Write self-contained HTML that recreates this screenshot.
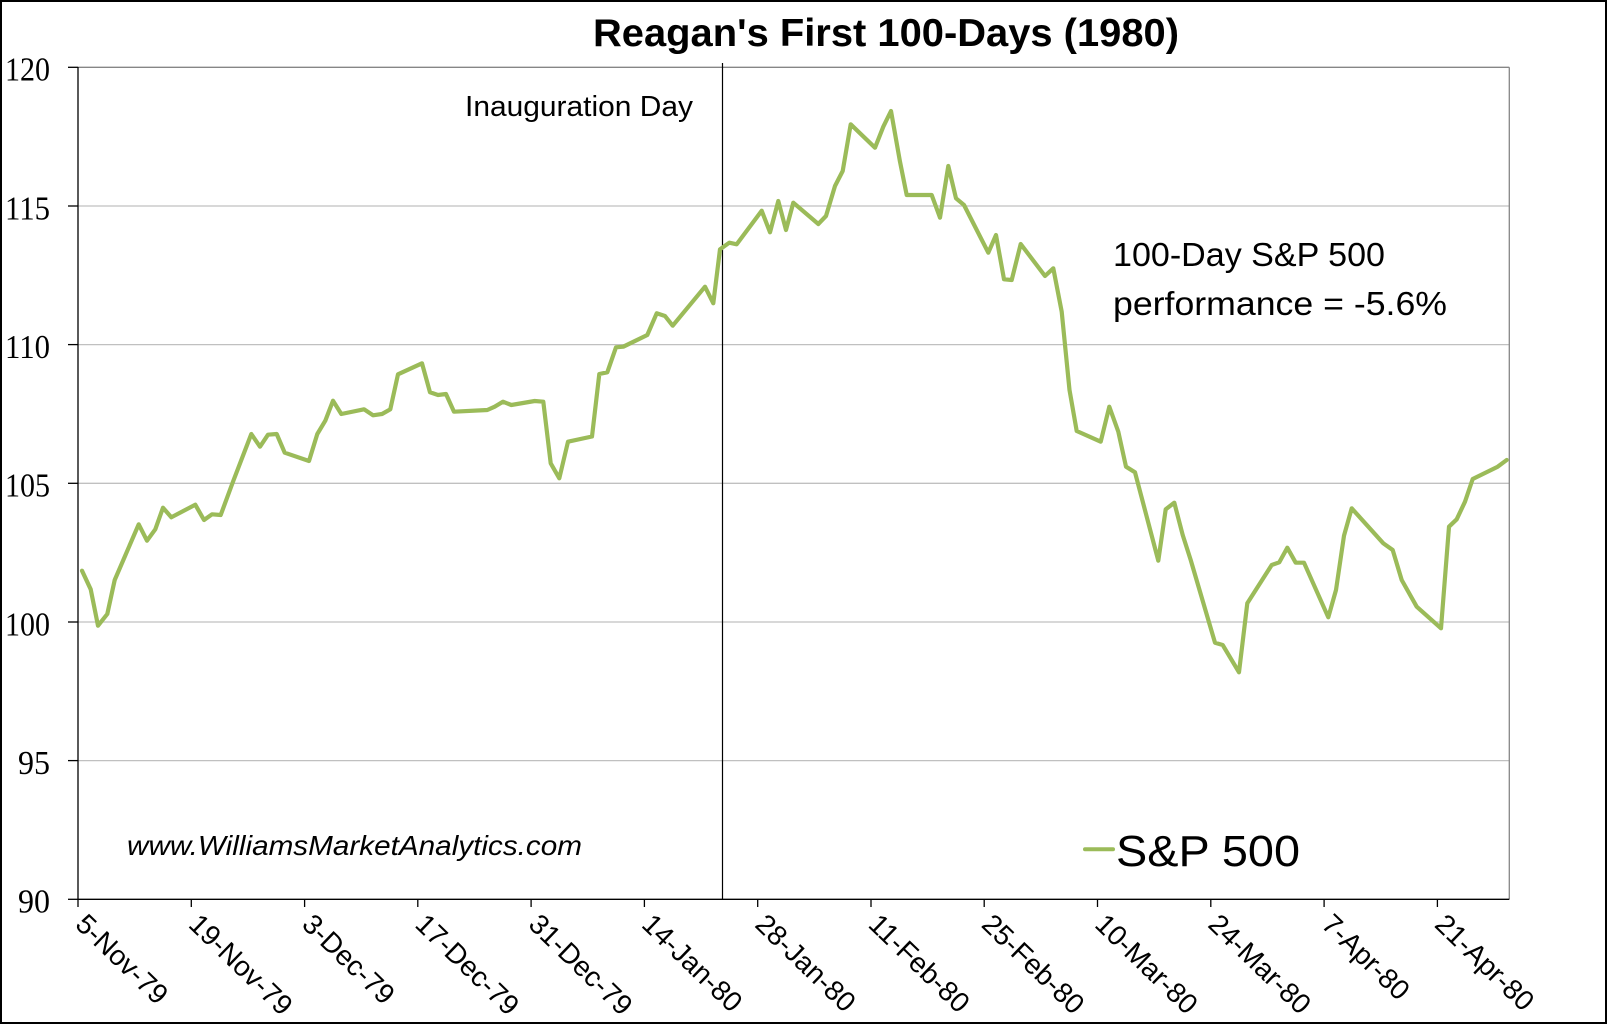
<!DOCTYPE html>
<html>
<head>
<meta charset="utf-8">
<style>
html,body{margin:0;padding:0;background:#fff;}
svg{display:block;}
text{font-family:"Liberation Sans",Arial,sans-serif;}
</style>
</head>
<body>
<svg width="1609" height="1025" viewBox="0 0 1609 1025" xmlns="http://www.w3.org/2000/svg">
<rect x="0" y="0" width="1609" height="1025" fill="#fff"/>
<rect x="1" y="1" width="1605" height="1022" fill="none" stroke="#000" stroke-width="2"/>

<!-- title -->
<text x="593" y="46" font-size="38.5" font-weight="bold" textLength="586" lengthAdjust="spacingAndGlyphs">Reagan's First 100-Days (1980)</text>

<!-- gridlines -->
<g stroke="#c0c0c0" stroke-width="1.3">
<line x1="78" y1="206" x2="1509" y2="206"/>
<line x1="78" y1="344.6" x2="1509" y2="344.6"/>
<line x1="78" y1="483.3" x2="1509" y2="483.3"/>
<line x1="78" y1="622" x2="1509" y2="622"/>
<line x1="78" y1="760.6" x2="1509" y2="760.6"/>
</g>
<!-- plot border top/right -->
<line x1="78" y1="67.3" x2="1509.3" y2="67.3" stroke="#868686" stroke-width="1.3"/>
<line x1="1509.3" y1="67.3" x2="1509.3" y2="899.3" stroke="#868686" stroke-width="1.3"/>

<!-- axes -->
<line x1="78" y1="67" x2="78" y2="899.3" stroke="#000" stroke-width="1.3"/>
<line x1="78" y1="899.3" x2="1509.3" y2="899.3" stroke="#000" stroke-width="1.3"/>
<g stroke="#000" stroke-width="1.3">
<line x1="68" y1="67.3" x2="78" y2="67.3"/>
<line x1="68" y1="206" x2="78" y2="206"/>
<line x1="68" y1="344.6" x2="78" y2="344.6"/>
<line x1="68" y1="483.3" x2="78" y2="483.3"/>
<line x1="68" y1="622" x2="78" y2="622"/>
<line x1="68" y1="760.6" x2="78" y2="760.6"/>
<line x1="68" y1="899.3" x2="78" y2="899.3"/>
<line x1="78" y1="899" x2="78" y2="907"/>
<line x1="191.3" y1="899" x2="191.3" y2="907"/>
<line x1="304.6" y1="899" x2="304.6" y2="907"/>
<line x1="417.8" y1="899" x2="417.8" y2="907"/>
<line x1="531.1" y1="899" x2="531.1" y2="907"/>
<line x1="644.4" y1="899" x2="644.4" y2="907"/>
<line x1="757.7" y1="899" x2="757.7" y2="907"/>
<line x1="871" y1="899" x2="871" y2="907"/>
<line x1="984.2" y1="899" x2="984.2" y2="907"/>
<line x1="1097.5" y1="899" x2="1097.5" y2="907"/>
<line x1="1210.8" y1="899" x2="1210.8" y2="907"/>
<line x1="1324.1" y1="899" x2="1324.1" y2="907"/>
<line x1="1437.4" y1="899" x2="1437.4" y2="907"/>
</g>

<!-- y labels -->
<g font-size="34" text-anchor="end">
<text x="50" y="80.5" textLength="45" lengthAdjust="spacingAndGlyphs" style="font-family:'Liberation Serif',serif">120</text>
<text x="50" y="219.3" textLength="45" lengthAdjust="spacingAndGlyphs" style="font-family:'Liberation Serif',serif">115</text>
<text x="50" y="357.9" textLength="45" lengthAdjust="spacingAndGlyphs" style="font-family:'Liberation Serif',serif">110</text>
<text x="50" y="496.6" textLength="45" lengthAdjust="spacingAndGlyphs" style="font-family:'Liberation Serif',serif">105</text>
<text x="50" y="635.3" textLength="45" lengthAdjust="spacingAndGlyphs" style="font-family:'Liberation Serif',serif">100</text>
<text x="50" y="773.9" textLength="32" lengthAdjust="spacingAndGlyphs" style="font-family:'Liberation Serif',serif">95</text>
<text x="50" y="912.6" textLength="32" lengthAdjust="spacingAndGlyphs" style="font-family:'Liberation Serif',serif">90</text>
</g>

<!-- x labels -->
<g font-size="28">
<text transform="translate(74,926) rotate(44)">5-Nov-79</text>
<text transform="translate(187.3,926) rotate(44)">19-Nov-79</text>
<text transform="translate(300.6,926) rotate(44)">3-Dec-79</text>
<text transform="translate(413.8,926) rotate(44)">17-Dec-79</text>
<text transform="translate(527.1,926) rotate(44)">31-Dec-79</text>
<text transform="translate(640.4,926) rotate(44)">14-Jan-80</text>
<text transform="translate(753.7,926) rotate(44)">28-Jan-80</text>
<text transform="translate(867,926) rotate(44)">11-Feb-80</text>
<text transform="translate(980.2,926) rotate(44)">25-Feb-80</text>
<text transform="translate(1093.5,926) rotate(44)">10-Mar-80</text>
<text transform="translate(1206.8,926) rotate(44)">24-Mar-80</text>
<text transform="translate(1320.1,926) rotate(44)">7-Apr-80</text>
<text transform="translate(1433.4,926) rotate(44)">21-Apr-80</text>
</g>

<!-- inauguration line -->
<line x1="722.5" y1="63" x2="722.5" y2="899.3" stroke="#000" stroke-width="1.2"/>
<text x="465" y="116" font-size="28.5" textLength="228" lengthAdjust="spacingAndGlyphs">Inauguration Day</text>

<!-- annotation -->
<text x="1113" y="266" font-size="33" textLength="272" lengthAdjust="spacingAndGlyphs">100-Day S&amp;P 500</text>
<text x="1113" y="315" font-size="33" textLength="334" lengthAdjust="spacingAndGlyphs">performance = -5.6%</text>

<!-- watermark -->
<text x="127" y="855" font-size="28" font-style="italic" textLength="455" lengthAdjust="spacingAndGlyphs">www.WilliamsMarketAnalytics.com</text>

<!-- legend -->
<line x1="1085" y1="849.3" x2="1113" y2="849.3" stroke="#9bbb59" stroke-width="4" stroke-linecap="round"/>
<text x="1116" y="866" font-size="44" textLength="184" lengthAdjust="spacingAndGlyphs">S&amp;P 500</text>

<!-- series -->
<polyline fill="none" stroke="#9bbb59" stroke-width="4.2" stroke-linejoin="round" stroke-linecap="round" points="
82,570.7 90.7,589.3 98,625.7 107.3,614 114.7,580 138.7,524.3 147,540.7 155.3,529.3 163,507.7 171.3,517.3
195.3,504.7 204,520 212,514.3 220.7,515 233,481.7 251.3,434 260,446.7 268,434.7 276.7,434 284.7,452.7
309,461 317.3,434 325.3,420.7 333,400.7 341.3,414 364,409.3 373,415.3 382,414 390.3,409.3 398,374.3
422,363.3 430,392.3 438,395 446,394 454,411.7 487.3,410 494.7,406.7 503,401.7 511.3,405 534.7,401
543.3,401.7 550.7,463.3 559.3,478.3 568,441.7 592,436.5 599.3,374 607.3,372.3 616,347.3 623.3,346.7
647.3,335 656.7,313.3 665,316 672.7,325.7 705,286.7 713.3,303.3 720,249.3 729.3,242.7 736.7,244.3
761.7,210.7 770,232.3 778.3,201 786,230 793.3,202.7 818.3,224 826,216 835,186 842.7,171 850.7,124.3
875,147.7 883.3,126.7 891,111 900,161.7 906.7,195 931.7,195 940,217.7 948.3,166 956,198.3 964,205
988.3,252.7 996,235 1004,279.3 1011.7,280 1020.7,244 1045,276 1053.3,268.3 1061.7,311.7 1069.5,390
1076.7,431 1100.7,441.7 1109.3,406.7 1118.3,431.7 1126,466.7 1135,472.3 1158.3,560.7 1165.7,509.3
1174.3,502.7 1182.7,535 1190.7,560 1215,642.7 1222.7,645 1239,672.3 1247.3,603.3 1271.7,565 1279.3,562.3
1287.3,547.7 1295.7,562.7 1304,562.7 1328.3,617.3 1336,590 1344,535.7 1351.7,508.3 1383.3,543.3
1392.7,550 1401.7,580 1416.7,606.7 1441,628.3 1449,526.7 1456.7,519.3 1465,501.7 1472.7,479
1497.7,466.7 1506.7,460"/>
</svg>
</body>
</html>
